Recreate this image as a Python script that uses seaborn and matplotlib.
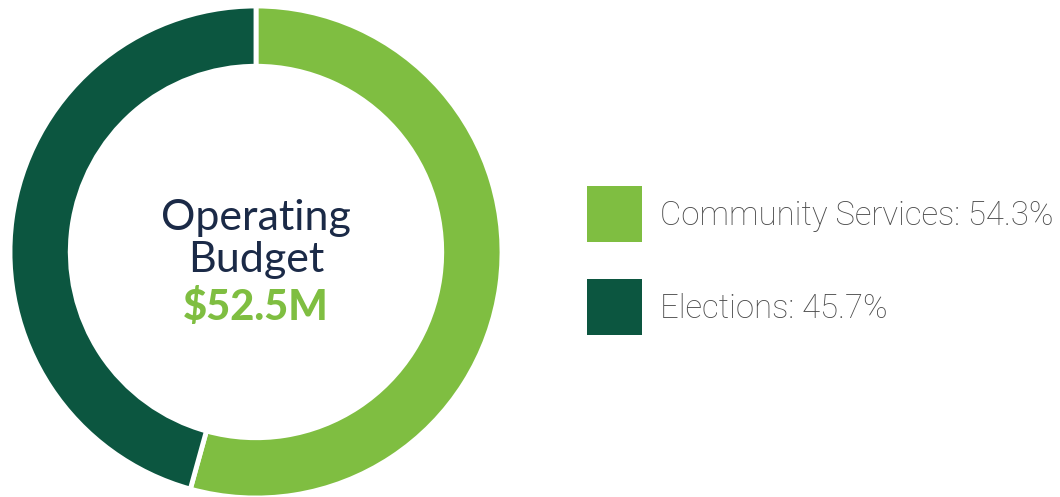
import matplotlib
matplotlib.use('Agg')
import matplotlib.pyplot as plt
from matplotlib.patches import Rectangle
import seaborn as sns

# Data
categories = ['Community Services', 'Elections']
shares = [54.3, 45.7]
colors = ['#7fbe41', '#0c5640']
title_lines = ['Operating', 'Budget']
total_label = '$52.5M'

sns.set_theme(style='white')
plt.rcParams['font.family'] = ['Lato', 'DejaVu Sans']

fig = plt.figure(figsize=(10.6, 4.97), dpi=100)

# Donut axes, sized in pixels of the target figure
ax = fig.add_axes([10 / 1060, -1 / 497, 492 / 1060, 492 / 497])
wedges, _ = ax.pie(shares, colors=colors, startangle=90, counterclock=False,
                   radius=1.0,
                   wedgeprops=dict(width=0.245, edgecolor='white', linewidth=3.5))
ax.set_xlim(-1, 1)
ax.set_ylim(-1, 1)
ax.set_aspect('equal')
ax.axis('off')

# Center text
navy = '#1b2a47'
ax.text(0, 0.089, title_lines[0], ha='center', va='baseline',
        fontsize=31, color=navy)
ax.text(0, -0.081, title_lines[1], ha='center', va='baseline',
        fontsize=31, color=navy)
ax.text(0, -0.276, total_label, ha='center', va='baseline',
        fontsize=30, fontweight='black', color=colors[0])

# Legend drawn in a pixel-space overlay
lax = fig.add_axes([0, 0, 1, 1])
lax.set_xlim(0, 1060)
lax.set_ylim(497, 0)
lax.axis('off')
for i, (cat, share, col) in enumerate(zip(categories, shares, colors)):
    top = 186 + i * 93
    lax.add_patch(Rectangle((587, top), 55, 56, facecolor=col, edgecolor='none'))
    lax.text(660, top + 39, f'{cat}: {share}%', ha='left', va='baseline',
             fontsize=23.7, fontweight='light', color='#4a4a4a',
             family=['Roboto', 'DejaVu Sans'])

fig.savefig('out.png', dpi=100)
plt.close(fig)
